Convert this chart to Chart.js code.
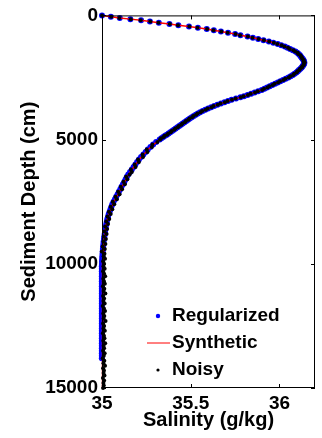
<!DOCTYPE html>
<html>
<head>
<meta charset="utf-8">
<script src="https://cdn.jsdelivr.net/npm/chart.js@4.4.1/dist/chart.umd.min.js"></script>
<style>
  html, body { margin: 0; padding: 0; background: #fff; }
  canvas { display: block; }
</style>
</head>
<body>
<canvas id="chart" width="322" height="438"></canvas>
<script>
// depth in cm (y axis, reversed)
var depth = [
    0, 50, 100, 150, 200, 250, 300, 350, 400, 450, 500, 550, 600, 650, 700, 750,
    800, 850, 900, 950, 1000, 1050, 1100, 1150, 1200, 1250, 1300, 1350, 1400, 1450, 1500,
    1550, 1600, 1650, 1700, 1750, 1800, 1850, 1900, 1950, 2000,
    2050, 2100, 2150, 2200, 2250, 2300, 2350, 2400, 2450, 2500,
    2550, 2600, 2650, 2700, 2750, 2800, 2850, 2900, 2950, 3000,
    3050, 3100, 3150, 3200, 3250, 3300, 3350, 3400, 3450, 3500,
    3550, 3600, 3650, 3700, 3750, 3800, 3850, 3900, 3950, 4000,
    4050, 4100, 4150, 4200, 4250, 4300, 4350, 4400, 4450, 4500,
    4550, 4600, 4650, 4700, 4750, 4800, 4850, 4900, 4950, 5000,
    5100, 5200, 5300, 5400, 5500, 5600, 5700, 5800, 5900, 6000,
    6100, 6200, 6300, 6400, 6500, 6600, 6700, 6800, 6900, 7000,
    7100, 7200, 7300, 7400, 7500, 7600, 7700, 7800, 7900, 8000,
    8100, 8200, 8300, 8400, 8500, 8600, 8700, 8800, 8900, 9000,
    9100, 9200, 9300, 9400, 9500, 9600, 9700, 9800, 9900, 10000,
    10100, 10200, 10300, 10400, 10500, 10600, 10700, 10800, 10900, 11000,
    11100, 11200, 11300, 11400, 11500, 11600, 11700, 11800, 11900, 12000,
    12100, 12200, 12300, 12400, 12500, 12600, 12700, 12800, 12900, 13000,
    13100, 13200, 13300, 13400, 13500, 13600, 13700, 13800, 13900, 14000,
    14100, 14200, 14300, 14400, 14500, 14600, 14700, 14800, 14900, 15000
];

// salinity in g/kg
var syntheticSalinity = [
    35.00, 35.05, 35.10, 35.16, 35.22, 35.27, 35.32, 35.38, 35.43, 35.49, 35.54, 35.59, 35.63, 35.67, 35.71, 35.75,
    35.78, 35.82, 35.85, 35.88, 35.91, 35.94, 35.965, 35.99, 36.01, 36.03, 36.045, 36.06, 36.075, 36.09, 36.10,
    36.108, 36.115, 36.12, 36.125, 36.13, 36.135, 36.138, 36.14, 36.139, 36.135,
    36.13, 36.125, 36.118, 36.11, 36.103, 36.095, 36.085, 36.075, 36.063, 36.05,
    36.035, 36.02, 36.005, 35.99, 35.975, 35.96, 35.945, 35.93, 35.915, 35.90,
    35.88, 35.86, 35.84, 35.82, 35.80, 35.78, 35.755, 35.73, 35.71, 35.69,
    35.67, 35.65, 35.632, 35.615, 35.598, 35.582, 35.567, 35.553, 35.54, 35.528,
    35.517, 35.506, 35.495, 35.485, 35.475, 35.465, 35.455, 35.445, 35.435, 35.425,
    35.415, 35.405, 35.395, 35.385, 35.375, 35.365, 35.355, 35.345, 35.335, 35.325,
    35.307, 35.29, 35.275, 35.26, 35.248, 35.235, 35.222, 35.21, 35.20, 35.19,
    35.18, 35.17, 35.16, 35.15, 35.142, 35.135, 35.128, 35.12, 35.112, 35.105,
    35.097, 35.09, 35.082, 35.075, 35.067, 35.06, 35.055, 35.05, 35.045, 35.04,
    35.036, 35.032, 35.029, 35.026, 35.023, 35.021, 35.019, 35.017, 35.015, 35.014,
    35.012, 35.011, 35.010, 35.009, 35.008, 35.007, 35.006, 35.006, 35.005, 35.005,
    35.004, 35.004, 35.004, 35.003, 35.003, 35.003, 35.003, 35.003, 35.003, 35.003,
    35.003, 35.003, 35.003, 35.003, 35.003, 35.003, 35.003, 35.003, 35.003, 35.003,
    35.003, 35.003, 35.003, 35.003, 35.003, 35.003, 35.003, 35.003, 35.003, 35.003,
    35.003, 35.003, 35.003, 35.003, 35.003, 35.003, 35.003, 35.003, 35.003, 35.003,
    35.003, 35.003, 35.003, 35.003, 35.003, 35.003, 35.003, 35.003, 35.003, 35.003
];

// regularized solution, stops at 13800 cm
var regularizedSalinity = [
    35.00, 35.05, 35.10, 35.16, 35.22, 35.27, 35.32, 35.38, 35.43, 35.49, 35.54, 35.59, 35.63, 35.67, 35.71, 35.75,
    35.78, 35.82, 35.85, 35.88, 35.91, 35.94, 35.965, 35.99, 36.01, 36.03, 36.045, 36.06, 36.075, 36.09, 36.10,
    36.108, 36.115, 36.12, 36.125, 36.13, 36.135, 36.138, 36.14, 36.139, 36.135,
    36.13, 36.125, 36.118, 36.11, 36.103, 36.095, 36.085, 36.075, 36.063, 36.05,
    36.035, 36.02, 36.005, 35.99, 35.975, 35.96, 35.945, 35.93, 35.915, 35.90,
    35.88, 35.86, 35.84, 35.82, 35.80, 35.78, 35.755, 35.73, 35.71, 35.69,
    35.67, 35.65, 35.632, 35.615, 35.598, 35.582, 35.567, 35.553, 35.54, 35.528,
    35.517, 35.506, 35.495, 35.485, 35.475, 35.465, 35.455, 35.445, 35.435, 35.425,
    35.415, 35.405, 35.395, 35.385, 35.375, 35.365, 35.355, 35.345, 35.335, 35.325,
    35.305, 35.288, 35.273, 35.258, 35.246, 35.233, 35.22, 35.208, 35.198, 35.188,
    35.178, 35.168, 35.158, 35.148, 35.14, 35.133, 35.126, 35.118, 35.11, 35.103,
    35.095, 35.088, 35.08, 35.073, 35.065, 35.058, 35.053, 35.048, 35.043, 35.038,
    35.034, 35.03, 35.027, 35.024, 35.021, 35.019, 35.017, 35.015, 35.013, 35.011,
    35.009, 35.008, 35.006, 35.005, 35.004, 35.003, 35.002, 35.001, 35.0, 35.0,
    34.999, 34.999, 34.999, 34.999, 34.999, 34.999, 34.999, 34.999, 34.999, 34.999,
    34.999, 34.999, 34.999, 34.999, 34.999, 34.999, 34.999, 34.999, 34.999, 34.999,
    34.999, 34.999, 34.999, 34.999, 34.999, 34.999, 34.999, 34.999, 34.999, 34.999,
    34.999, 34.999, 34.999, 34.999, 34.999, 34.999, 34.999, 34.999
];

var noisySalinity = [
    35.00, 35.052, 35.098, 35.162, 35.218, 35.272, 35.318, 35.382, 35.428, 35.492, 35.538, 35.592, 35.628, 35.672, 35.708, 35.752,
    35.778, 35.822, 35.848, 35.882, 35.912, 35.942, 35.968, 35.988, 36.012, 36.028, 36.048, 36.058, 36.078, 36.088, 36.102,
    36.106, 36.118, 36.121, 36.127, 36.128, 36.137, 36.136, 36.142, 36.137, 36.137,
    36.128, 36.127, 36.116, 36.112, 36.101, 36.097, 36.083, 36.077, 36.061, 36.052,
    36.033, 36.022, 36.003, 35.992, 35.973, 35.962, 35.943, 35.932, 35.913, 35.902,
    35.878, 35.862, 35.838, 35.822, 35.798, 35.782, 35.753, 35.732, 35.708, 35.692,
    35.668, 35.652, 35.629, 35.617, 35.596, 35.584, 35.565, 35.555, 35.538, 35.530,
    35.515, 35.508, 35.493, 35.487, 35.473, 35.467, 35.453, 35.447, 35.433, 35.427,
    35.413, 35.407, 35.393, 35.387, 35.373, 35.367, 35.353, 35.347, 35.333, 35.327,
    35.312, 35.284, 35.281, 35.252, 35.256, 35.229, 35.231, 35.203, 35.208, 35.184,
    35.189, 35.163, 35.168, 35.156, 35.136, 35.143, 35.121, 35.129, 35.106, 35.113,
    35.091, 35.099, 35.076, 35.084, 35.061, 35.069, 35.049, 35.058, 35.039, 35.049,
    35.031, 35.041, 35.024, 35.034, 35.018, 35.029, 35.014, 35.026, 35.010, 35.022,
    35.008, 35.019, 35.004, 35.016, 34.999, 35.014, 35.009, 35.017, 35.006, 35.012,
    35.008, 35.015, 35.006, 35.012, 35.018, 35.007, 35.011, 35.016, 35.005, 35.013,
    35.009, 35.019, 35.006, 35.012, 35.008, 35.015, 35.004, 35.011, 35.017, 35.007,
    35.013, 35.009, 35.020, 35.006, 35.012, 35.008, 35.016, 35.005, 35.011, 35.014,
    35.007, 35.018, 35.009, 35.012, 35.006, 35.015, 35.010, 35.004, 35.013, 35.008,
    35.017, 35.006, 35.011, 35.009, 35.014, 35.005, 35.012, 35.008, 35.010, 35.006
];

var xTicks = [35, 35.5, 36];
var yTicks = [0, 5000, 10000, 15000];
var legendLabels = ['Regularized', 'Synthetic', 'Noisy'];

function toPoints(xs, ys) {
    var pts = [];
    for (var i = 0; i < xs.length; i++) pts.push({ x: xs[i], y: ys[i] });
    return pts;
}

var fontFamily = '"Liberation Sans", Arial, Helvetica, sans-serif';
var boldFont = 'bold 19px ' + fontFamily;

// box, inward ticks and in-plot legend (matlab style)
var frameAndLegend = {
    id: 'frameAndLegend',
    afterDraw: function (chart) {
        var ctx = chart.ctx;
        var a = chart.chartArea;
        var xs = chart.scales.x, ys = chart.scales.y;
        ctx.save();
        ctx.strokeStyle = '#000';
        ctx.lineWidth = 1;
        ctx.strokeRect(a.left + 0.5, a.top + 0.5, a.right - a.left - 1, a.bottom - a.top - 1);

        var tl = 4;
        ctx.beginPath();
        xTicks.forEach(function (v) {
            var px = Math.round(xs.getPixelForValue(v)) + 0.5;
            ctx.moveTo(px, a.bottom); ctx.lineTo(px, a.bottom - tl);
            ctx.moveTo(px, a.top); ctx.lineTo(px, a.top + tl);
        });
        yTicks.forEach(function (v) {
            var py = Math.round(ys.getPixelForValue(v)) + 0.5;
            ctx.moveTo(a.left, py); ctx.lineTo(a.left + tl, py);
            ctx.moveTo(a.right, py); ctx.lineTo(a.right - tl, py);
        });
        ctx.stroke();

        // legend
        var tx = a.left + 70;
        var rows = [a.bottom - 72, a.bottom - 45, a.bottom - 18];
        ctx.font = boldFont;
        ctx.fillStyle = '#000';
        ctx.textBaseline = 'middle';
        ctx.textAlign = 'left';
        legendLabels.forEach(function (t, i) { ctx.fillText(t, tx, rows[i]); });

        ctx.fillStyle = '#0000ff';
        ctx.beginPath(); ctx.arc(tx - 14, rows[0], 2.2, 0, Math.PI * 2); ctx.fill();
        ctx.strokeStyle = '#ff0000';
        ctx.beginPath(); ctx.moveTo(tx - 25, rows[1]); ctx.lineTo(tx - 2, rows[1]); ctx.stroke();
        ctx.fillStyle = '#000';
        ctx.beginPath(); ctx.arc(tx - 14, rows[2], 1.6, 0, Math.PI * 2); ctx.fill();
        ctx.restore();
    }
};

var ctx = document.getElementById('chart').getContext('2d');
new Chart(ctx, {
    type: 'scatter',
    data: {
        datasets: [
            { label: 'Noisy', data: toPoints(noisySalinity, depth), backgroundColor: '#000', borderColor: '#000',
              pointRadius: 2, borderWidth: 0, showLine: false, order: 1, clip: false },
            { label: 'Synthetic', data: toPoints(syntheticSalinity, depth), borderColor: '#ff0000', borderWidth: 1.5,
              pointRadius: 0, showLine: true, fill: false, tension: 0, order: 2, clip: false },
            { label: 'Regularized', data: toPoints(regularizedSalinity, depth.slice(0, regularizedSalinity.length)),
              backgroundColor: '#0000ff', borderColor: '#0000ff', pointRadius: 3, borderWidth: 0,
              showLine: false, order: 3, clip: false }
        ]
    },
    options: {
        responsive: false,
        animation: false,
        layout: { padding: { top: 13, right: 7, left: 0, bottom: 0 } },
        plugins: { legend: { display: false }, tooltip: { enabled: false } },
        scales: {
            x: {
                type: 'linear',
                min: 35,
                max: 36.2,
                afterBuildTicks: function (scale) { scale.ticks = xTicks.map(function (v) { return { value: v }; }); },
                afterFit: function (scale) { scale.height = 50; },
                grid: { display: false, drawTicks: false },
                border: { display: false },
                ticks: { color: '#000', padding: 4, maxRotation: 0,
                         callback: function (v) { return String(v); },
                         font: { family: fontFamily, size: 19, weight: 'bold' } },
                title: { display: true, text: 'Salinity (g/kg)', color: '#000', padding: { top: 0, bottom: 6 },
                         font: { family: fontFamily, size: 20, weight: 'bold' } }
            },
            y: {
                type: 'linear',
                reverse: true,
                min: 0,
                max: 15000,
                afterBuildTicks: function (scale) { scale.ticks = yTicks.map(function (v) { return { value: v }; }); },
                afterFit: function (scale) { scale.width = 102; },
                grid: { display: false, drawTicks: false },
                border: { display: false },
                ticks: { color: '#000', padding: 4,
                         callback: function (v) { return String(v); },
                         font: { family: fontFamily, size: 19, weight: 'bold' } },
                title: { display: true, text: 'Sediment Depth (cm)', color: '#000', padding: { top: 17, bottom: 0 },
                         font: { family: fontFamily, size: 20, weight: 'bold' } }
            }
        }
    },
    plugins: [frameAndLegend]
});
</script>
</body>
</html>
